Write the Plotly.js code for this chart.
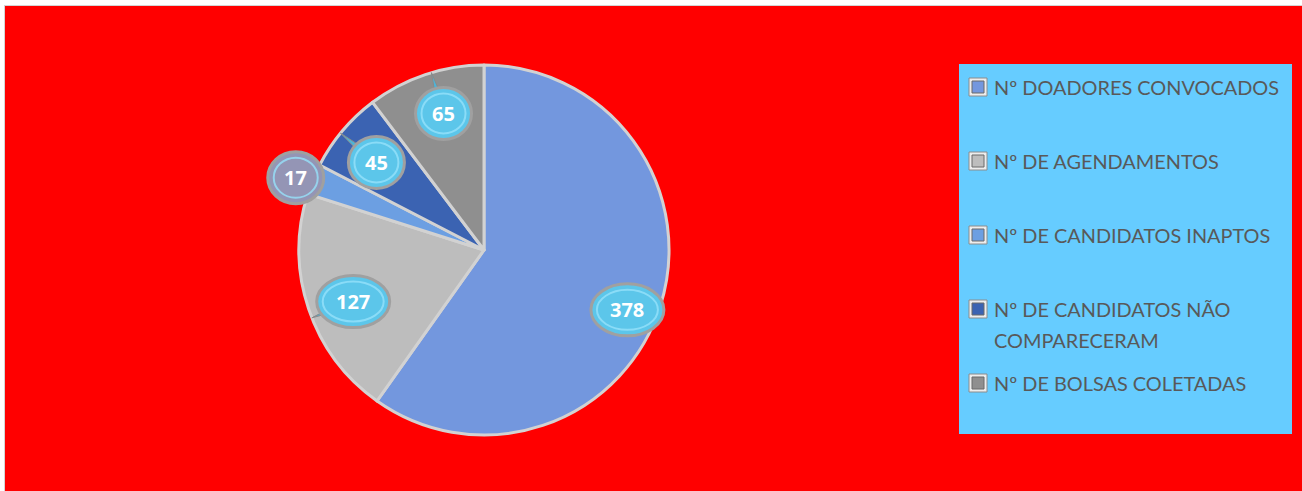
<!DOCTYPE html>
<html>
<head>
<meta charset="utf-8">
<script src="https://cdn.plot.ly/plotly-3.0.1.min.js"></script>
<style>
  html, body { margin: 0; padding: 0; background: #ffffff; width: 1302px; height: 491px; overflow: hidden; }
  #frame { position: absolute; left: 4px; top: 5px; width: 1298px; height: 486px; background: #d4d4d4; }
  #chart { position: absolute; left: 5px; top: 6px; width: 1297px; height: 485px; }
</style>
</head>
<body>
<div id="frame"></div>
<div id="chart"></div>
<script>
// ---- data ----
const categories = [
  'Nº DOADORES CONVOCADOS',
  'Nº DE AGENDAMENTOS',
  'Nº DE CANDIDATOS INAPTOS',
  'Nº DE CANDIDATOS NÃO COMPARECERAM',
  'Nº DE BOLSAS COLETADAS'
];
const counts = [378, 127, 17, 45, 65];

// ---- styles ----
const sliceColors = ['#7397de', '#bdbdbd', '#6c9fe2', '#3b63b2', '#8f8f8f'];
const bubbleColors = ['#5cc6ea', '#5cc6ea', '#9495b5', '#5cc6ea', '#5cc6ea'];
const labelRadius = [0.84, 0.76, 1.09, 0.75, 0.77];
const labelAngleShift = [5, -3, -1.5, -1, 2]; // degrees

const W = 1297, H = 485;
const cxPx = 479, cyPx = 244, R = 185;
const px2x = p => p / W;
const px2y = p => (H - p) / H;

function wrap(s, max) {
  const words = s.split(' ');
  const lines = []; let cur = '';
  words.forEach(w => {
    if (cur && (cur + ' ' + w).length > max) { lines.push(cur); cur = w; }
    else cur = cur ? cur + ' ' + w : w;
  });
  if (cur) lines.push(cur);
  return lines;
}

// size the legend font so the first entry spans the same width as the reference
const legFamily = 'Lato';
const ctx = document.createElement('canvas').getContext('2d');
ctx.font = '100px ' + legFamily;
const w100 = ctx.measureText(categories[0]).width;
const legSize = Math.round(285 / w100 * 1000) / 10;

const trace = {
  type: 'pie',
  labels: categories,
  values: counts,
  sort: false,
  direction: 'clockwise',
  rotation: 0,
  textinfo: 'none',
  hoverinfo: 'none',
  showlegend: false,
  marker: { colors: sliceColors, line: { color: '#d2d2d2', width: 3 } },
  domain: { x: [px2x(cxPx - R), px2x(cxPx + R)], y: [px2y(cyPx + R), px2y(cyPx - R)] }
};

// legend box
const shapes = [{
  type: 'rect', xref: 'paper', yref: 'paper', layer: 'below',
  x0: px2x(954), x1: px2x(1287), y0: px2y(428), y1: px2y(58),
  fillcolor: '#66ccff', line: { width: 0 }
}];
const annotations = [];

// legend entries
const legFont = { family: legFamily + ', Open Sans, sans-serif', size: legSize, color: '#595959' };
let ly = 81; // first entry centre (div px)
categories.forEach((c, i) => {
  const lines = wrap(c, 26);
  const symX = 973;
  shapes.push({
    type: 'rect', xref: 'paper', yref: 'paper', xsizemode: 'pixel', ysizemode: 'pixel',
    xanchor: px2x(symX), yanchor: px2y(ly), x0: -9, x1: 9, y0: -9, y1: 9,
    fillcolor: '#ededed', line: { color: '#8c8c8c', width: 1 }
  });
  shapes.push({
    type: 'rect', xref: 'paper', yref: 'paper', xsizemode: 'pixel', ysizemode: 'pixel',
    xanchor: px2x(symX), yanchor: px2y(ly), x0: -6, x1: 6, y0: -6, y1: 6,
    fillcolor: sliceColors[i], line: { color: '#6b6b6b', width: 1 }
  });
  lines.forEach((ln, k) => {
    annotations.push({
      xref: 'paper', yref: 'paper', x: px2x(987), y: px2y(ly + k * 30.5),
      xanchor: 'left', yanchor: 'middle', align: 'left', showarrow: false,
      text: ln, font: legFont
    });
  });
  ly += 74;
});

// value bubbles (callouts)
const total = counts.reduce((a, b) => a + b, 0);
let acc = 0;
counts.forEach((v, i) => {
  const mid = (acc + v / 2) / total * 2 * Math.PI + labelAngleShift[i] * Math.PI / 180;
  acc += v;
  const d = labelRadius[i] * R;
  const ux = Math.sin(mid), uy = -Math.cos(mid);
  const bx = cxPx + ux * d;
  const by = cyPx + uy * d;
  const bw = 22 + 17 * String(v).length, bh = 52;
  if (labelRadius[i] < 1) {
    // pointer tail toward the rim
    const tx = cxPx + ux * R, ty = cyPx + uy * R;
    const nx = -uy * 5, ny = ux * 5;
    const p = (x, y) => px2x(x) + ',' + px2y(y);
    shapes.push({
      type: 'path', xref: 'paper', yref: 'paper',
      path: 'M' + p(bx + nx, by + ny) + 'L' + p(tx, ty) + 'L' + p(bx - nx, by - ny) + 'Z',
      fillcolor: '#4fb3d6', line: { color: '#8a8a8a', width: 1 }
    });
  }
  shapes.push({
    type: 'circle', xref: 'paper', yref: 'paper', xsizemode: 'pixel', ysizemode: 'pixel',
    xanchor: px2x(bx), yanchor: px2y(by), x0: -bw / 2, x1: bw / 2, y0: -bh / 2, y1: bh / 2,
    fillcolor: bubbleColors[i], line: { color: '#a0a0a0', width: 3 }
  });
  shapes.push({
    type: 'circle', xref: 'paper', yref: 'paper', xsizemode: 'pixel', ysizemode: 'pixel',
    xanchor: px2x(bx), yanchor: px2y(by), x0: -bw / 2 + 6, x1: bw / 2 - 6, y0: -bh / 2 + 6, y1: bh / 2 - 6,
    fillcolor: 'rgba(0,0,0,0)', line: { color: 'rgba(150,225,250,0.8)', width: 2 }
  });
  annotations.push({
    xref: 'paper', yref: 'paper', x: px2x(bx), y: px2y(by), xanchor: 'center', yanchor: 'middle',
    showarrow: false, text: '<b>' + v + '</b>',
    font: { family: 'Open Sans, Liberation Sans, sans-serif', size: 20, color: '#ffffff' }
  });
});

const layout = {
  width: W, height: H,
  margin: { l: 0, r: 0, t: 0, b: 0 },
  paper_bgcolor: '#ff0000',
  showlegend: false,
  shapes: shapes,
  annotations: annotations
};

Plotly.newPlot('chart', [trace], layout, { staticPlot: true, displayModeBar: false });
</script>
</body>
</html>
